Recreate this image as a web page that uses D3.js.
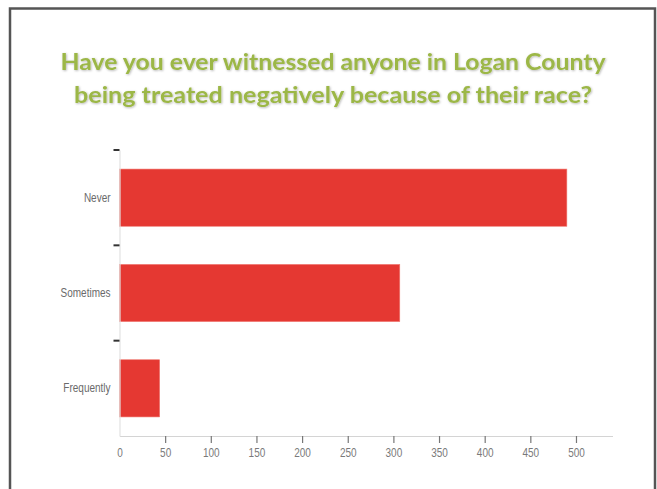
<!DOCTYPE html>
<html>
<head>
<meta charset="utf-8">
<script src="https://cdn.jsdelivr.net/npm/d3@7/dist/d3.min.js"></script>
<style>
  html, body { margin: 0; padding: 0; background: #ffffff; }
  svg { display: block; }
</style>
</head>
<body>
<svg id="chart" width="657" height="489"></svg>
<script>
// Survey responses
const categories = ["Never", "Sometimes", "Frequently"];
const counts = [490, 307, 44];
const xTicks = [0, 50, 100, 150, 200, 250, 300, 350, 400, 450, 500];
const titleLines = [
  "Have you ever witnessed anyone in Logan County",
  "being treated negatively because of their race?"
];
const titleWidths = [545, 518];

const svg = d3.select("#chart");

// slide frame
svg.append("rect")
  .attr("x", 10).attr("y", 8.5)
  .attr("width", 645).attr("height", 500)
  .attr("fill", "#ffffff")
  .attr("stroke", "#555555")
  .attr("stroke-width", 2.5);

// title with a soft shadow
const defs = svg.append("defs");
const f = defs.append("filter").attr("id", "shadow")
  .attr("x", "-5%").attr("y", "-20%").attr("width", "110%").attr("height", "140%");
f.append("feDropShadow").attr("dx", 0.8).attr("dy", 0.8)
  .attr("stdDeviation", 0.8).attr("flood-color", "#000").attr("flood-opacity", 0.3);

svg.append("g").attr("filter", "url(#shadow)")
  .selectAll("text").data(titleLines).join("text")
  .attr("x", 333)
  .attr("y", (d, i) => 70 + i * 33)
  .attr("text-anchor", "middle")
  .attr("font-family", "Lato, 'Open Sans', sans-serif")
  .attr("font-weight", 700)
  .attr("font-size", 23.5)
  .attr("textLength", (d, i) => titleWidths[i])
  .attr("lengthAdjust", "spacingAndGlyphs")
  .attr("fill", "#9cb746")
  .text(d => d);

// scales
const x = d3.scaleLinear().domain([0, 540]).range([119.5, 612.5]);
const y = d3.scaleBand().domain(categories).range([150, 436])
  .paddingInner(0.4).paddingOuter(0.2);

const labelFont = "'Liberation Sans', Arial, sans-serif";
const narrow = 0.8;

// bars
svg.append("g").selectAll("rect").data(categories).join("rect")
  .attr("x", x(0))
  .attr("y", d => y(d))
  .attr("width", (d, i) => x(counts[i]) - x(0))
  .attr("height", y.bandwidth())
  .attr("fill", "#e53832")
  .attr("stroke", "#f07a72")
  .attr("stroke-width", 0.6);

// x axis
const xAxis = svg.append("g")
  .attr("transform", `translate(0,436)`)
  .call(d3.axisBottom(x).tickValues(xTicks).tickSize(7).tickPadding(5).tickSizeOuter(0));
xAxis.select(".domain").attr("stroke", "#d4d4d4").attr("stroke-width", 1.2);
xAxis.selectAll(".tick line").attr("stroke", "#777").attr("stroke-width", 1.2)
  .filter(d => d === 0).remove();
xAxis.selectAll(".tick text")
  .attr("font-family", labelFont)
  .attr("font-size", 12.5)
  .attr("fill", "#7a7a7a")
  .attr("transform", `scale(${narrow},1)`);

// y axis: labels at band centres, tick marks on band boundaries
const yAxis = svg.append("g")
  .attr("transform", `translate(${x(0)},0)`)
  .call(d3.axisLeft(y).tickSize(0).tickPadding(9));
yAxis.select(".domain").attr("stroke", "#e2e2e2").attr("stroke-width", 1.2);
yAxis.selectAll(".tick text")
  .attr("font-family", labelFont)
  .attr("font-size", 12.5)
  .attr("fill", "#6a6a6a")
  .attr("transform", `scale(${narrow},1)`)
  .attr("x", -9 / narrow);

const boundary = d => y(d) - y.step() * y.paddingInner() / 2;
svg.append("g").selectAll("line").data(categories).join("line")
  .attr("x1", x(0) - 6).attr("x2", x(0))
  .attr("y1", d => boundary(d)).attr("y2", d => boundary(d))
  .attr("stroke", "#333")
  .attr("stroke-width", 2);
</script>
</body>
</html>
